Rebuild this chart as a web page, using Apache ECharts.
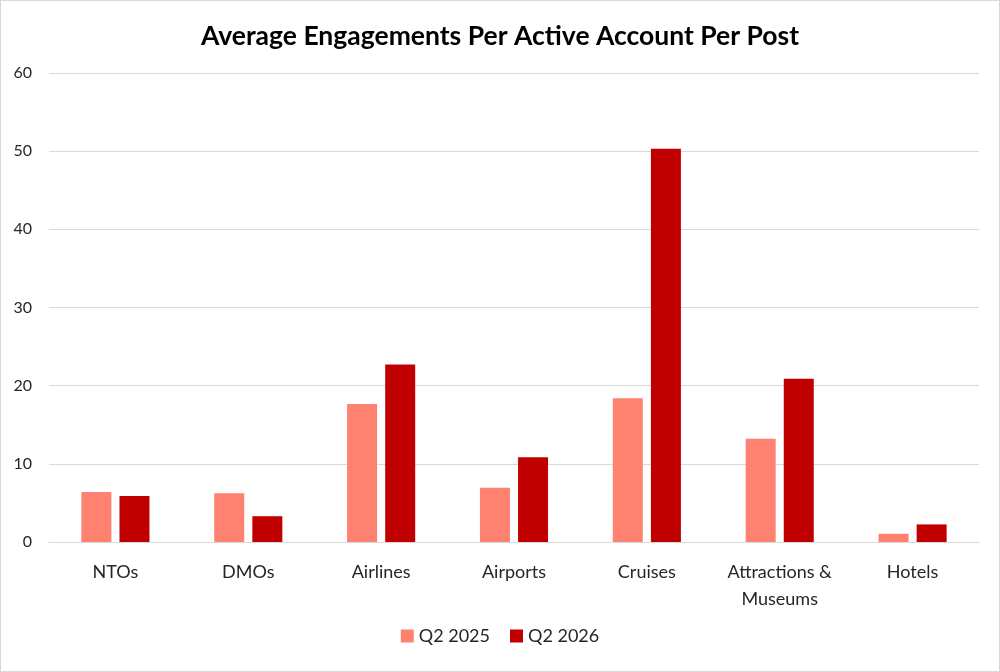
<!DOCTYPE html>
<html>
<head>
<meta charset="utf-8">
<script src="https://cdn.jsdelivr.net/npm/echarts@6/dist/echarts.min.js"></script>
<style>
    html, body { margin: 0; padding: 0; background: #fff; }
    #main { width: 1000px; height: 672px; box-sizing: border-box; border: 1px solid #d9d9d9; }
</style>
</head>
<body>
<div id="main"></div>
<script>
// 数据
var categories = ['NTOs', 'DMOs', 'Airlines', 'Airports', 'Cruises', 'Attractions &\nMuseums', 'Hotels'];
var q2_2025 = [6.4, 6.25, 17.65, 6.95, 18.4, 13.2, 1.05];
var q2_2026 = [5.9, 3.3, 22.7, 10.85, 50.3, 20.9, 2.25];
var yTicks = { min: 0, max: 60, interval: 10 };

var font = 'Lato, "Open Sans", sans-serif';
var chart = echarts.init(document.getElementById('main'));

chart.setOption({
    animation: false,
    title: {
        text: 'Average Engagements Per Active Account Per Post',
        left: 'center',
        top: 17,
        textStyle: { fontFamily: font, fontSize: 26.5, fontWeight: 'bold', color: '#000' }
    },
    legend: {
        bottom: 21,
        left: 'center',
        itemWidth: 13,
        itemHeight: 13,
        itemGap: 20,
        icon: 'rect',
        textStyle: { fontFamily: font, fontSize: 18, color: '#262626' },
        data: ['Q2 2025', 'Q2 2026']
    },
    grid: { left: 48, right: 20, top: 72, bottom: 129, containLabel: false },
    xAxis: {
        type: 'category',
        data: categories,
        axisTick: { show: false },
        axisLine: { lineStyle: { color: '#d9d9d9', width: 1 } },
        axisLabel: { fontFamily: font, fontSize: 18, color: '#262626', margin: 17, lineHeight: 27, interval: 0 }
    },
    yAxis: {
        type: 'value',
        min: yTicks.min,
        max: yTicks.max,
        interval: yTicks.interval,
        axisLine: { show: false },
        axisTick: { show: false },
        axisLabel: { fontFamily: font, fontSize: 16, color: '#262626', margin: 17 },
        splitLine: { lineStyle: { color: '#d9d9d9', width: 1 } }
    },
    series: [{
        name: 'Q2 2025',
        type: 'bar',
        data: q2_2025,
        barWidth: 30,
        barGap: '27%',
        itemStyle: { color: '#ff8170' }
    }, {
        name: 'Q2 2026',
        type: 'bar',
        data: q2_2026,
        barWidth: 30,
        itemStyle: { color: '#c00000' }
    }]
});
</script>
</body>
</html>
